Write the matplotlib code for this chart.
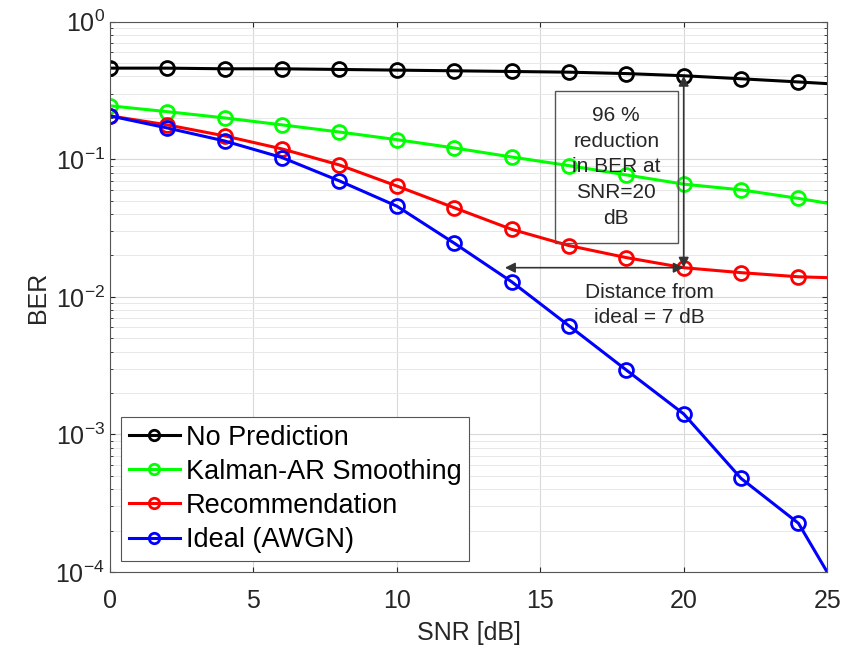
import numpy as np
import matplotlib
matplotlib.use('Agg')
import matplotlib.pyplot as plt
from matplotlib.patches import Rectangle
from matplotlib.ticker import LogLocator, NullFormatter, FixedLocator

plt.rcParams['font.family'] = ['Liberation Sans', 'DejaVu Sans']

# Datos
snr = [0, 2, 4, 6, 8, 10, 12, 14, 16, 18, 20, 22, 24, 25]
ber_no_pred = [0.46, 0.46, 0.455, 0.455, 0.45, 0.445, 0.44, 0.435, 0.43,
               0.42, 0.405, 0.385, 0.365, 0.355]
ber_kalman = [0.245, 0.222, 0.2, 0.178, 0.158, 0.139, 0.121, 0.104, 0.09,
              0.077, 0.066, 0.06, 0.052, 0.048]
ber_recom = [0.207, 0.178, 0.148, 0.119, 0.091, 0.064, 0.0445, 0.031, 0.0236,
             0.0193, 0.0163, 0.015, 0.014, 0.0138]
ber_ideal = [0.207, 0.169, 0.136, 0.103, 0.0697, 0.0457, 0.0246, 0.0129,
             0.00617, 0.00294, 0.00141, 0.000479, 0.000226, 0.0001]

series = [
    ('No Prediction', ber_no_pred, 'k'),
    ('Kalman-AR Smoothing', ber_kalman, '#00ff00'),
    ('Recommendation', ber_recom, '#ff0000'),
    ('Ideal (AWGN)', ber_ideal, '#0000ff'),
]

fig = plt.figure(figsize=(8.51, 6.59), dpi=100)
ax = fig.add_axes([0.129, 0.132, 0.843, 0.835])

marcas = list(range(len(snr) - 1))  # sin marcador en 25 dB
for nombre, vals, col in series:
    ax.semilogy(snr, vals, '-o', color=col, lw=2.2, ms=10, mfc='none',
                mew=2, markevery=marcas, label=nombre)

ax.set_xlim(0, 25)
ax.set_ylim(1e-4, 1)
ax.xaxis.set_major_locator(FixedLocator([0, 5, 10, 15, 20, 25]))
ax.yaxis.set_major_locator(LogLocator(base=10, numticks=10))
ax.yaxis.set_minor_locator(LogLocator(base=10, subs=np.arange(2, 10), numticks=20))
ax.yaxis.set_minor_formatter(NullFormatter())

gris = '#262626'
ax.grid(True, which='major', color='#d9d9d9', lw=0.8)
ax.grid(True, which='minor', axis='y', color='#e8e8e8', lw=0.7)
ax.tick_params(which='both', direction='in', top=True, right=True,
               colors=gris, labelsize=18, labelcolor=gris)
ax.tick_params(axis='x', pad=12)
for s in ax.spines.values():
    s.set_color('#555555')
    s.set_linewidth(0.8)

ax.set_xlabel('SNR [dB]', fontsize=18, color=gris, labelpad=6)
ax.set_ylabel('BER', fontsize=18, color=gris, labelpad=4)

# Recuadro de texto
ax.add_patch(Rectangle((15.5, 0.0247), 4.3, 0.315 - 0.0247, fill=False,
                       ec='#555555', lw=1, zorder=3))
ax.text(17.65, 0.088, '96 %\nreduction\nin BER at\nSNR=20\ndB', ha='center',
        va='center', fontsize=15, color=gris, linespacing=1.45, zorder=4)

# Flechas
ax.annotate('', xy=(20, 0.405), xytext=(20, 0.0163),
            arrowprops=dict(arrowstyle='<|-|>', color='#333333', lw=1.2,
                            mutation_scale=15, shrinkA=0, shrinkB=0))
ax.annotate('', xy=(13.77, 0.0163), xytext=(20, 0.0163),
            arrowprops=dict(arrowstyle='<|-|>', color='#333333', lw=1.2,
                            mutation_scale=15, shrinkA=0, shrinkB=0))
ax.text(18.8, 0.0088, 'Distance from\nideal = 7 dB', ha='center', va='center',
        fontsize=15, color=gris, linespacing=1.4)

leg = ax.legend(loc='lower left', fontsize=19.5, frameon=True, fancybox=False,
                framealpha=1, edgecolor='#555555', handlelength=1.9,
                handletextpad=0.2, borderaxespad=0.4, labelspacing=0.3,
                borderpad=0.3, markerscale=0.75)
leg.get_frame().set_linewidth(0.8)

fig.savefig('out.png', dpi=100)
